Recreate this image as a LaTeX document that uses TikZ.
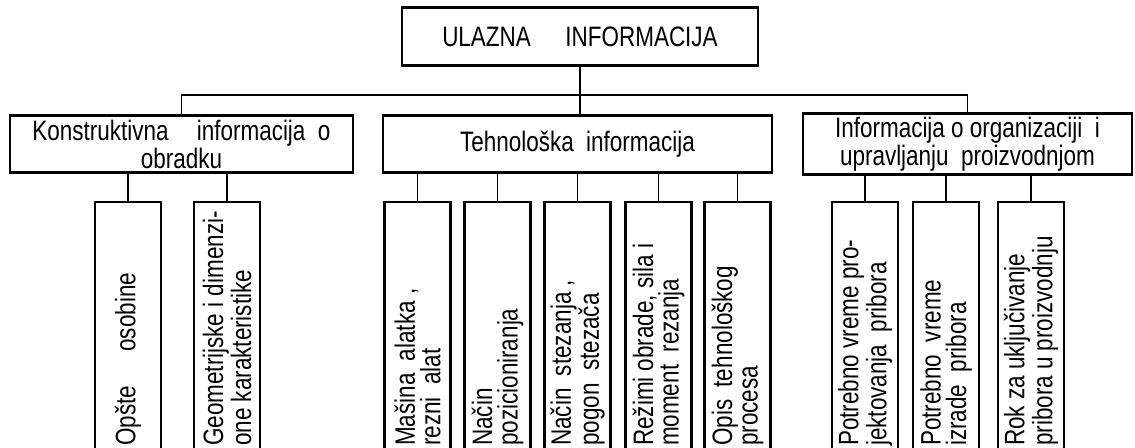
\documentclass[tikz,border=0pt]{standalone}
\usepackage{fontspec}
\setmainfont{Liberation Sans}[FakeStretch=0.8]
\usetikzlibrary{positioning}
\tikzset{
  box/.style={draw,line width=1.5pt,align=center,inner sep=2pt,
    font=\fontsize{16}{14.5}\selectfont},
  upperbox/.style={box,minimum width=#1,minimum height=1.15cm},
  lowerbox/.style={box,rotate=90,minimum width=4.96cm,minimum height=1.32cm,
    text width=4.8cm,align=flush left},
  link/.style={line width=1pt},
}
\newcommand\lowerrow[3]{
  \foreach \x/\txt [count=\i] in {#3} {
    \node[lowerbox] (#2\i) at (\x,326) {\txt};
    \draw[link] (#2\i.east |- #1.south) -- (#2\i.east);
  }
}

\begin{document}
\begin{tikzpicture}[x=0.02cm,y=-0.02cm]
  \clip (0,0) rectangle (1135,448);

  % top and middle row
  \node[upperbox=7.12cm] (ulaz) at (580,36.5) {ULAZNA\quad\ INFORMACIJA};
  \node[upperbox=6.86cm] (konst) at (181.5,144)
    {Konstruktivna\quad informacija\ \ o\\obradku};
  \node[upperbox=7.78cm] (tehn) at (577.5,144) {Tehnološka\ \ informacija};
  \node[upperbox=6.58cm] (org) at (967.5,144)
    {Informacija o organizaciji\ \ i\\upravljanju\ \ proizvodnjom};

  \coordinate (bus) at (0,95);
  \draw[link] (ulaz.south) -- (ulaz.south |- tehn.north);
  \draw[link] (konst.north) |- (org.north |- bus) -- (org.north);

  % lower row
  \lowerrow{konst}{k}{128/{Opšte\quad\ osobine},
    227/{Geometrijske i dimenzi-\\one karakteristike}}
  \lowerrow{tehn}{t}{417.5/{Mašina\ \ alatka ,\\rezni\ \ alat},
    497.5/{Način\\pozicioniranja},
    577.5/{Način\ \ stezanja ,\\pogon\ \ stezača},
    658.5/{Režimi obrade, sila i\\moment\ \ rezanja},
    737.5/{Opis\ \ tehnološkog\\procesa}}
  \lowerrow{org}{o}{865/{Potrebno vreme pro-\\jektovanja\ \ pribora},
    946/{Potrebno\ \ vreme\\izrade\ \ pribora},
    1031/{Rok za uključivanje\\pribora u proizvodnju}}

\end{tikzpicture}
\end{document}
